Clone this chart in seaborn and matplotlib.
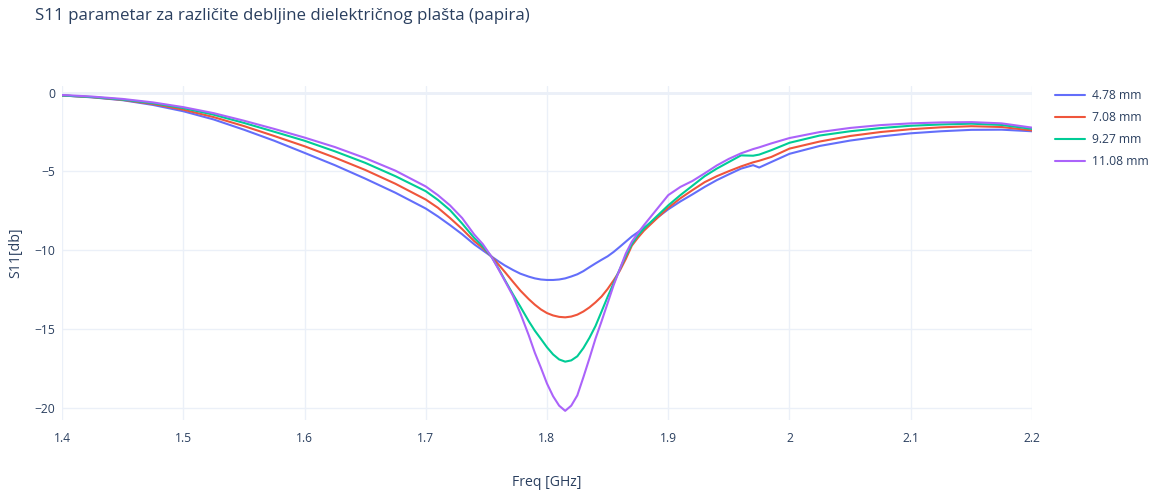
import numpy as np
import pandas as pd
import matplotlib
matplotlib.use("Agg")
import matplotlib.pyplot as plt
import seaborn as sns

# ---- data ----
freq = [1.40, 1.425, 1.45, 1.475, 1.50, 1.525, 1.55, 1.575, 1.60, 1.625, 1.65, 1.675,
        1.70, 1.71, 1.72, 1.73, 1.74, 1.747, 1.754, 1.76, 1.765, 1.772, 1.778, 1.785,
        1.79, 1.795, 1.80, 1.805, 1.81, 1.815, 1.82, 1.825, 1.83, 1.835, 1.84, 1.845,
        1.85, 1.855, 1.86, 1.865, 1.87, 1.875, 1.88, 1.89, 1.90, 1.91, 1.92, 1.93,
        1.94, 1.95, 1.96, 1.97, 1.975, 1.985, 2.00, 2.025, 2.05, 2.075, 2.10, 2.125,
        2.15, 2.175, 2.20]

s11_478 = [-0.18, -0.30, -0.48, -0.78, -1.18, -1.70, -2.35, -3.05, -3.82, -4.60, -5.45, -6.35,
           -7.35, -7.85, -8.40, -8.98, -9.62, -10.00, -10.38, -10.70, -10.95, -11.25, -11.48, -11.67,
           -11.78, -11.85, -11.88, -11.88, -11.85, -11.78, -11.66, -11.52, -11.32, -11.07, -10.83, -10.60,
           -10.38, -10.10, -9.78, -9.45, -9.12, -8.85, -8.57, -7.98, -7.40, -6.90, -6.45, -5.98,
           -5.55, -5.18, -4.82, -4.60, -4.75, -4.40, -3.88, -3.38, -3.04, -2.78, -2.58, -2.45,
           -2.36, -2.35, -2.45]

s11_708 = [-0.18, -0.29, -0.46, -0.72, -1.08, -1.55, -2.12, -2.75, -3.40, -4.12, -4.90, -5.78,
           -6.78, -7.30, -7.95, -8.65, -9.42, -9.85, -10.38, -10.90, -11.35, -12.00, -12.55, -13.10,
           -13.45, -13.75, -13.98, -14.13, -14.22, -14.25, -14.20, -14.08, -13.88, -13.62, -13.30, -12.93,
           -12.45, -11.90, -11.30, -10.55, -9.70, -9.20, -8.75, -8.02, -7.30, -6.70, -6.18, -5.68,
           -5.30, -4.98, -4.68, -4.42, -4.32, -4.08, -3.55, -3.10, -2.75, -2.50, -2.32, -2.20,
           -2.13, -2.18, -2.40]

s11_927 = [-0.18, -0.28, -0.44, -0.67, -0.98, -1.40, -1.92, -2.48, -3.05, -3.72, -4.45, -5.30,
           -6.25, -6.80, -7.45, -8.30, -9.22, -9.75, -10.38, -11.15, -11.85, -12.80, -13.57, -14.50,
           -15.10, -15.62, -16.15, -16.60, -16.92, -17.06, -16.98, -16.72, -16.20, -15.55, -14.80, -13.88,
           -12.95, -12.08, -11.20, -10.35, -9.60, -9.05, -8.62, -7.88, -7.15, -6.50, -5.90, -5.30,
           -4.82, -4.40, -3.98, -4.00, -3.93, -3.65, -3.18, -2.72, -2.45, -2.25, -2.10, -2.02,
           -1.97, -2.05, -2.30]

s11_1108 = [-0.15, -0.25, -0.40, -0.62, -0.92, -1.30, -1.78, -2.30, -2.85, -3.45, -4.15, -4.95,
            -5.95, -6.50, -7.15, -7.95, -9.00, -9.60, -10.38, -11.20, -11.90, -12.90, -13.99, -15.40,
            -16.50, -17.45, -18.45, -19.25, -19.85, -20.18, -19.85, -19.20, -18.05, -16.85, -15.60, -14.50,
            -13.35, -12.20, -11.20, -10.20, -9.45, -8.90, -8.40, -7.45, -6.50, -5.98, -5.60, -5.12,
            -4.62, -4.20, -3.85, -3.58, -3.47, -3.22, -2.88, -2.50, -2.24, -2.06, -1.95, -1.89,
            -1.87, -1.95, -2.22]

labels = ["4.78 mm", "7.08 mm", "9.27 mm", "11.08 mm"]
colors = ["#636efa", "#EF553B", "#00cc96", "#ab63fa"]

x_ticks = [1.4, 1.5, 1.6, 1.7, 1.8, 1.9, 2.0, 2.1, 2.2]
x_tick_labels = ["1.4", "1.5", "1.6", "1.7", "1.8", "1.9", "2", "2.1", "2.2"]
y_ticks = [0, -5, -10, -15, -20]
y_tick_labels = ["0", "\u22125", "\u221210", "\u221215", "\u221220"]

title = "S11 parametar za različite debljine dielektričnog plašta (papira)"
xlabel = "Freq [GHz]"
ylabel = "S11[db]"

# ---- build long-form table ----
series = [s11_478, s11_708, s11_927, s11_1108]
frames = []
for lab, vals in zip(labels, series):
    frames.append(pd.DataFrame({"freq": freq, "s11": vals, "debljina": lab}))
df = pd.concat(frames, ignore_index=True)

# ---- style ----
sns.set_theme(style="white")
plt.rcParams["font.family"] = ["Open Sans", "DejaVu Sans"]
text_color = "#2a3f5f"
grid_color = "#EBF0F8"

fig = plt.figure(figsize=(11.66, 4.92), dpi=100)
ax = fig.add_axes([62 / 1166, 1 - 420 / 492, (1032 - 62) / 1166, (420 - 86) / 492])

sns.lineplot(data=df, x="freq", y="s11", hue="debljina", hue_order=labels,
             palette=colors, estimator=None, sort=False, linewidth=1.5, ax=ax)

ax.set_xlim(1.4, 2.2)
ax.set_ylim(-20.76, 0.42)
ax.set_xticks(x_ticks)
ax.set_xticklabels(x_tick_labels)
ax.set_yticks(y_ticks)
ax.set_yticklabels(y_tick_labels)
ax.tick_params(axis="both", length=0, labelsize=8.7, colors=text_color)
ax.tick_params(axis="x", pad=9)
ax.tick_params(axis="y", pad=5)
ax.grid(True, color=grid_color, linewidth=1)
ax.axhline(0, color=grid_color, linewidth=2, zorder=0)
for s in ax.spines.values():
    s.set_visible(False)

ax.set_xlabel("")
ax.set_ylabel("")
fig.text(547 / 1166, 1 - 482 / 492, xlabel, ha="center", va="center",
         fontsize=10.1, color=text_color)
fig.text(16 / 1166, 1 - 253 / 492, ylabel, ha="center", va="center",
         rotation=90, fontsize=10.1, color=text_color)
fig.text(35 / 1166, 1 - 16 / 492, title, ha="left", va="center",
         fontsize=12.2, color=text_color)

handles, labs = ax.get_legend_handles_labels()
ax.legend(handles, labs, loc="upper left", bbox_to_anchor=(1050 / 1166, 1 - 84 / 492),
          bbox_transform=fig.transFigure, frameon=False, fontsize=8.7,
          handlelength=2.5, handletextpad=0.6, labelspacing=0.75, borderaxespad=0)
for t in ax.get_legend().get_texts():
    t.set_color(text_color)

fig.savefig("out.png", dpi=100)
